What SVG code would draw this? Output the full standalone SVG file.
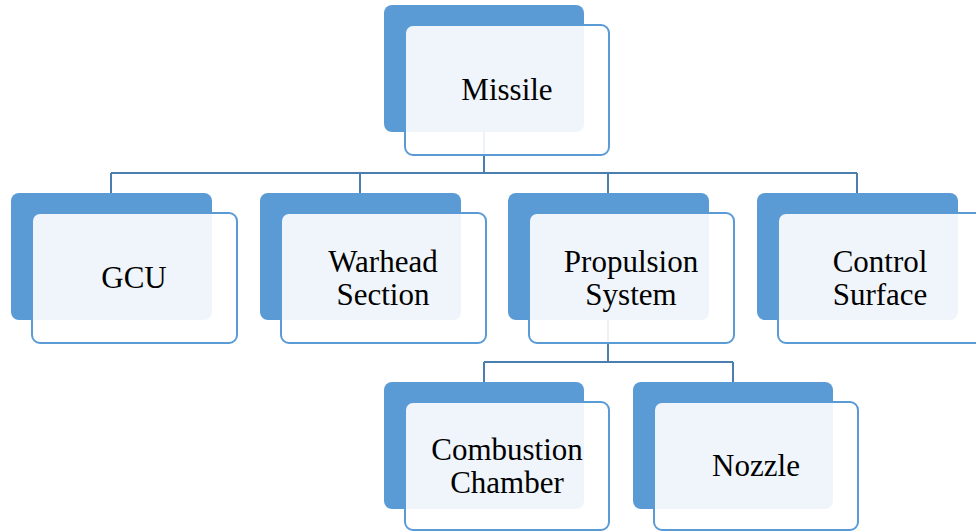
<svg xmlns="http://www.w3.org/2000/svg" width="976" height="531" viewBox="0 0 976 531">
<rect width="976" height="531" fill="#FFFFFF"/>
<g id="connectors" fill="none" stroke="#4A7EAE" stroke-width="2">
<path d="M484,132 V173 M111,173 H857 M111,173 V193 M360,173 V193 M608,173 V193 M857,173 V193"/>
<path d="M608,320 V362 M484,362 H733 M484,362 V382 M733,362 V382"/>
</g>
<g id="nodes" font-family="Liberation Serif" font-size="31" text-anchor="middle" fill="#000000">
<g id="missile">
<rect fill="#5B9BD5" x="384" y="5" width="200" height="127" rx="8"/>
<rect fill="#FFFFFF" fill-opacity="0.9" stroke="#5B9BD5" stroke-width="2" x="405" y="25" width="204" height="130" rx="8"/>
<text x="507" y="100">Missile</text>
</g>
<g id="gcu">
<rect fill="#5B9BD5" x="11" y="193" width="201" height="127" rx="8"/>
<rect fill="#FFFFFF" fill-opacity="0.9" stroke="#5B9BD5" stroke-width="2" x="32" y="213" width="205" height="130" rx="8"/>
<text x="134" y="288">GCU</text>
</g>
<g id="warhead">
<rect fill="#5B9BD5" x="260" y="193" width="201" height="127" rx="8"/>
<rect fill="#FFFFFF" fill-opacity="0.9" stroke="#5B9BD5" stroke-width="2" x="281" y="213" width="205" height="130" rx="8"/>
<text x="383" y="272">Warhead</text>
<text x="383" y="305">Section</text>
</g>
<g id="propulsion">
<rect fill="#5B9BD5" x="508" y="193" width="201" height="127" rx="8"/>
<rect fill="#FFFFFF" fill-opacity="0.9" stroke="#5B9BD5" stroke-width="2" x="529" y="213" width="205" height="130" rx="8"/>
<text x="631" y="272">Propulsion</text>
<text x="631" y="305">System</text>
</g>
<g id="control">
<rect fill="#5B9BD5" x="757" y="193" width="201" height="127" rx="8"/>
<rect fill="#FFFFFF" fill-opacity="0.9" stroke="#5B9BD5" stroke-width="2" x="778" y="213" width="205" height="130" rx="8"/>
<text x="880" y="272">Control</text>
<text x="880" y="305">Surface</text>
</g>
<g id="combustion">
<rect fill="#5B9BD5" x="384" y="382" width="200" height="127" rx="8"/>
<rect fill="#FFFFFF" fill-opacity="0.9" stroke="#5B9BD5" stroke-width="2" x="405" y="402" width="204" height="128" rx="8"/>
<text x="507" y="460">Combustion</text>
<text x="507" y="493">Chamber</text>
</g>
<g id="nozzle">
<rect fill="#5B9BD5" x="633" y="382" width="200" height="127" rx="8"/>
<rect fill="#FFFFFF" fill-opacity="0.9" stroke="#5B9BD5" stroke-width="2" x="654" y="402" width="204" height="128" rx="8"/>
<text x="756" y="476">Nozzle</text>
</g>
</g>
</svg>
